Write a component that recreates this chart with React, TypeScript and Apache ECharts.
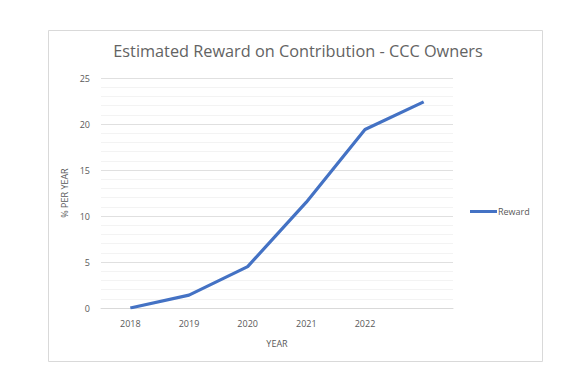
import React, { useEffect, useRef } from "react";
import * as echarts from "echarts";

const categories = ["2018", "2019", "2020", "2021", "2022", ""];
const rewardValues = [0, 1.4, 4.5, 11.5, 19.4, 22.4];
const seriesName = "Reward";

export default function App() {
  const ref = useRef<HTMLDivElement>(null);
  useEffect(() => {
    if (!ref.current) return;
    const chart = echarts.init(ref.current, null, { renderer: "svg" });
    const txt = "#595959";
    chart.setOption({
      animation: false,
      backgroundColor: "#ffffff",
      textStyle: { fontFamily: "Open Sans" },
      title: {
        text: "Estimated Reward on Contribution - CCC Owners",
        left: 293,
        textAlign: "center",
        top: 38,
        textStyle: { fontSize: 16.3, fontWeight: "normal", color: "#636363", fontFamily: "Open Sans" },
      },
      graphic: [
        {
          type: "rect",
          shape: { x: 48.5, y: 30.5, width: 494, height: 331 },
          style: { fill: "none", stroke: "#d9d9d9", lineWidth: 1 },
          silent: true,
        },
      ],
      legend: {
        data: [seriesName],
        left: 470,
        top: 207,
        padding: 0,
        itemWidth: 27,
        itemHeight: 3,
        itemGap: 2,
        icon: "rect",
        textStyle: { fontSize: 9, color: txt, padding: [0, 0, 0, -4] },
      },
      grid: { left: 101, right: 132, top: 78, bottom: 74, containLabel: false },
      xAxis: {
        type: "category",
        data: categories,
        boundaryGap: true,
        name: "YEAR",
        nameLocation: "middle",
        nameGap: 31,
        nameTextStyle: { fontSize: 9, color: txt },
        axisLine: { lineStyle: { color: "#d9d9d9", width: 1 } },
        axisTick: { show: false },
        axisLabel: { fontSize: 9, color: txt, margin: 11 },
      },
      yAxis: {
        type: "value",
        min: 0,
        max: 25,
        interval: 5,
        name: "% PER YEAR",
        nameLocation: "middle",
        nameGap: 27,
        nameTextStyle: { fontSize: 9, color: txt },
        axisLine: { show: false },
        axisTick: { show: false },
        axisLabel: { fontSize: 9, color: txt, margin: 11 },
        splitLine: { lineStyle: { color: "#e0e0e0", width: 1 } },
        minorTick: { show: false, splitNumber: 5 },
        minorSplitLine: { show: true, lineStyle: { color: "#f3f3f3", width: 1 } },
      },
      series: [
        {
          name: seriesName,
          type: "line",
          data: rewardValues,
          symbol: "none",
          lineStyle: { color: "#4472C4", width: 3.2 },
          itemStyle: { color: "#4472C4" },
        },
      ],
    });
    return () => chart.dispose();
  }, []);
  return (
    <div style={{ position: "fixed", left: 0, top: 0, width: 585, height: 382, background: "#fff" }}>
      <div ref={ref} style={{ width: 585, height: 382 }} />
    </div>
  );
}
